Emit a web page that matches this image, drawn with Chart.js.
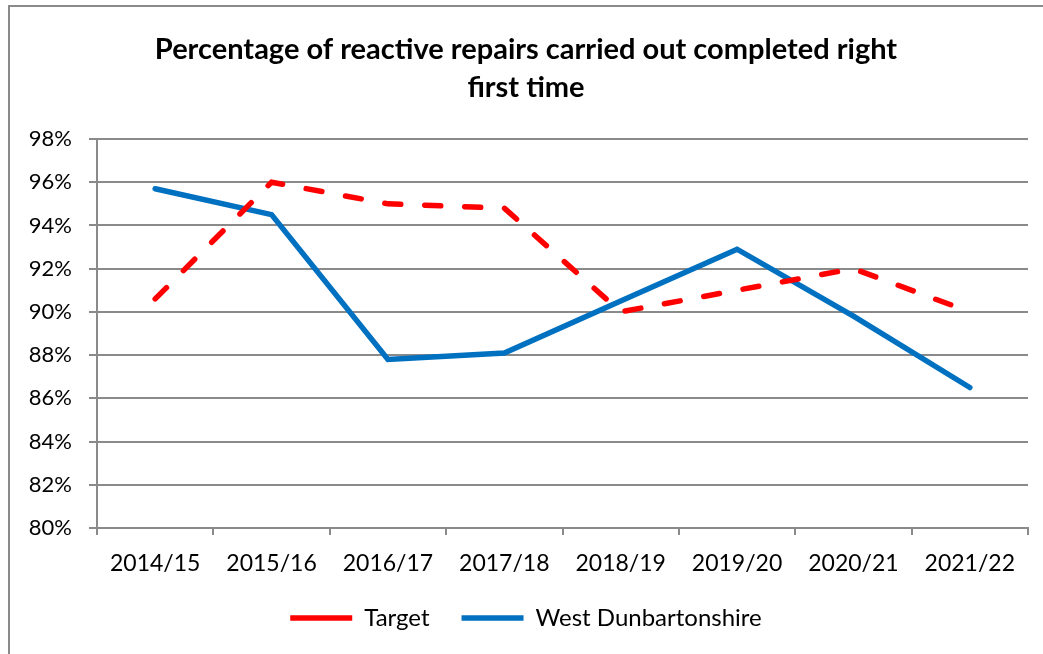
<!DOCTYPE html>
<html>
<head>
<meta charset="utf-8">
<script src="https://cdn.jsdelivr.net/npm/chart.js@4.4.0/dist/chart.umd.min.js"></script>
<style>
  html, body { margin: 0; padding: 0; background: #fff; }
  #wrap { position: relative; width: 1043px; height: 654px; overflow: hidden; }
  #frame { position: absolute; left: 8px; top: 5px; width: 1050px; height: 700px; border: 2px solid #8a8a8a; box-sizing: border-box; }
  canvas { position: absolute; left: 0; top: 0; }
</style>
</head>
<body>
<div id="wrap">
  <div id="frame"></div>
  <canvas id="c" width="1043" height="654"></canvas>
</div>
<script>
const categories = ['2014/15', '2015/16', '2016/17', '2017/18', '2018/19', '2019/20', '2020/21', '2021/22'];
const targetValues = [90.6, 96.0, 95.0, 94.8, 90.0, 91.0, 92.0, 90.0];
const westDunbartonshireValues = [95.7, 94.5, 87.8, 88.1, 90.5, 92.9, 89.8, 86.5];
const yTicks = [80, 82, 84, 86, 88, 90, 92, 94, 96, 98];

const FONT = 'Lato, "Open Sans", sans-serif';

new Chart(document.getElementById('c'), {
  type: 'line',
  data: {
    labels: categories,
    datasets: [
      {
        label: 'Target',
        data: targetValues,
        borderColor: '#ff0000',
        backgroundColor: '#ff0000',
        borderWidth: 5.5,
        borderDash: [16, 24],
        borderCapStyle: 'round',
        tension: 0,
        pointRadius: 0,
        fill: false
      },
      {
        label: 'West Dunbartonshire',
        data: westDunbartonshireValues,
        borderColor: '#0070c0',
        backgroundColor: '#0070c0',
        borderWidth: 5.5,
        borderCapStyle: 'round',
        borderJoinStyle: 'miter',
        tension: 0,
        pointRadius: 0,
        fill: false
      }
    ]
  },
  options: {
    responsive: false,
    animation: false,
    devicePixelRatio: 1,
    layout: { padding: { left: 24, right: 15, top: 0, bottom: 14 } },
    plugins: {
      tooltip: { enabled: false },
      title: {
        display: true,
        text: ['Percentage of reactive repairs carried out completed right', 'first time'],
        color: '#000',
        font: { family: FONT, size: 29, weight: 'bold', lineHeight: 38 / 29 },
        padding: { top: 31, bottom: 32 }
      },
      legend: {
        position: 'bottom',
        labels: {
          usePointStyle: true,
          pointStyle: 'line',
          pointStyleWidth: 62,
          boxHeight: 5,
          padding: 32,
          color: '#000',
          font: { family: FONT, size: 24 }
        }
      }
    },
    scales: {
      x: {
        type: 'category',
        offset: true,
        grid: {
          display: true,
          offset: true,
          drawOnChartArea: false,
          drawTicks: true,
          tickLength: 7,
          color: '#8a8a8a',
          lineWidth: 2
        },
        border: { display: true, color: '#8a8a8a', width: 2 },
        ticks: {
          color: '#000',
          font: { family: FONT, size: 23 },
          padding: 15,
          maxRotation: 0,
          autoSkip: false
        },
        afterFit: (s) => { s.height = 46; }
      },
      y: {
        min: 80,
        max: 98,
        afterBuildTicks: (s) => { s.ticks = yTicks.map(v => ({ value: v })); },
        grid: {
          color: '#8a8a8a',
          lineWidth: 2,
          drawTicks: true,
          tickLength: 8
        },
        border: { display: true, color: '#8a8a8a', width: 2 },
        ticks: {
          color: '#000',
          font: { family: FONT, size: 22 },
          padding: 17,
          callback: (v) => v + '%'
        },
        afterFit: (s) => { s.width = 73; }
      }
    }
  }
});
</script>
</body>
</html>
